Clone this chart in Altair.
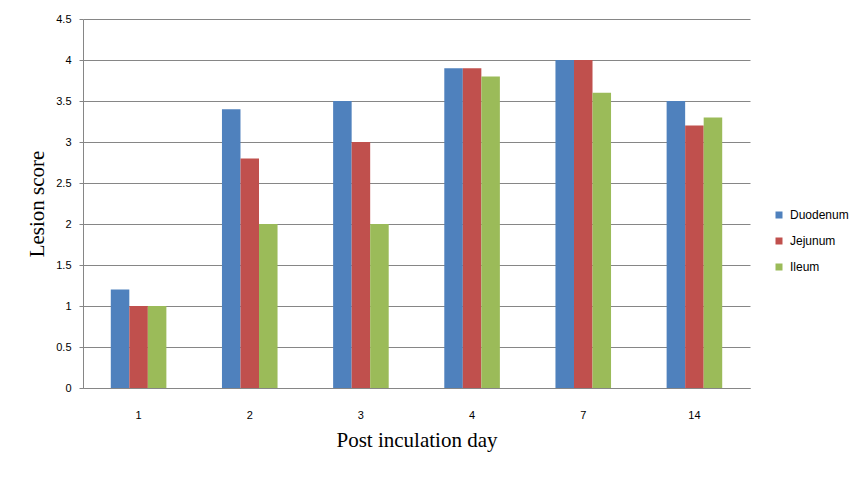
import altair as alt
import pandas as pd

days = ["1", "2", "3", "4", "7", "14"]
series = ["Duodenum", "Jejunum", "Ileum"]
duodenum = [1.2, 3.4, 3.5, 3.9, 4.0, 3.5]
jejunum = [1.0, 2.8, 3.0, 3.9, 4.0, 3.2]
ileum = [1.0, 2.0, 2.0, 3.8, 3.6, 3.3]
colors = ["#4F81BD", "#C0504D", "#9BBB59"]
y_ticks = [0, 0.5, 1, 1.5, 2, 2.5, 3, 3.5, 4, 4.5]

rows = []
for name, vals in zip(series, [duodenum, jejunum, ileum]):
    for d, v in zip(days, vals):
        rows.append({"day": d, "organ": name, "score": v})
df = pd.DataFrame(rows)

W, H = 667, 369

chart = alt.Chart(df).mark_bar().encode(
    x=alt.X("day:N", sort=days,
            scale=alt.Scale(paddingInner=0.5, paddingOuter=0.25),
            axis=alt.Axis(title="Post inculation day", labelAngle=0,
                          labelPadding=21, ticks=False, domainColor="#868686",
                          labelFont="Liberation Sans", labelFontSize=11, labelColor="#000000",
                          titleFont="Liberation Serif", titleFontSize=21, titleFontWeight="normal",
                          titleColor="#000000", titleY=52, titleBaseline="middle")),
    xOffset=alt.XOffset("organ:N", sort=series),
    y=alt.Y("score:Q", scale=alt.Scale(domain=[0, 4.5], nice=False),
            axis=alt.Axis(title="Lesion score", values=y_ticks, format="~g",
                          tickSize=4, tickColor="#868686", domainColor="#868686",
                          gridColor="#868686", labelPadding=8,
                          labelFont="Liberation Sans", labelFontSize=11, labelColor="#000000",
                          titleFont="Liberation Serif", titleFontSize=21, titleFontWeight="normal",
                          titleColor="#000000", titleX=-46, titleY=H / 2, titleBaseline="middle")),
    color=alt.Color("organ:N", sort=series,
                    scale=alt.Scale(domain=series, range=colors),
                    legend=alt.Legend(title=None, orient="none", legendX=690, legendY=190,
                                      symbolType="square", symbolSize=49, symbolStrokeWidth=0,
                                      labelFont="Liberation Sans", labelFontSize=12,
                                      labelColor="#000000", rowPadding=14, labelOffset=5)),
).properties(
    width=W, height=H,
    autosize=alt.AutoSizeParams(type="none"),
    padding={"left": 75, "top": 11, "right": 108, "bottom": 81},
).configure_view(stroke=None).configure_axis(grid=True).configure_axisX(grid=False)

chart.save("out.html", embed_options={"renderer": "svg", "actions": False})
